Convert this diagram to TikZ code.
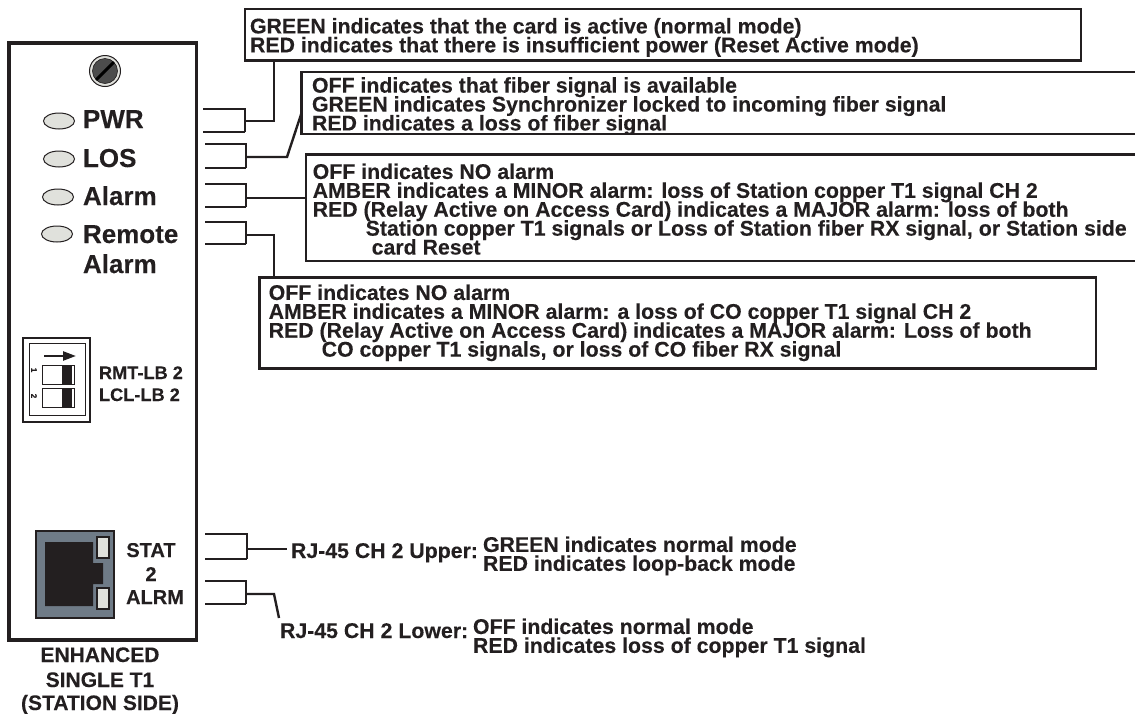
\documentclass[tikz,border=0pt]{standalone}
\usepackage{fontspec}
\setmainfont{Liberation Sans}[BoldFeatures={FakeBold=0.12}]
\usetikzlibrary{shapes.geometric, arrows.meta}
\definecolor{ink}{HTML}{231F20}
\definecolor{lampgray}{HTML}{E0E1DC}
\definecolor{jackgray}{HTML}{6F7B87}
\newcommand{\noteface}{\bfseries\fontsize{21.3}{18.9}\selectfont\lineskiplimit=-20pt}
\begin{document}
\begin{tikzpicture}[
        x=1pt, y=-1pt,
        line join=miter,
        every node/.style={outer sep=0pt},
        cardedge/.style={draw=ink, line width=3.6pt},
        callbox/.style={rectangle, draw=ink, line width=2.6pt, anchor=north west, inner sep=0pt},
        calltext/.style={anchor=north west, inner sep=0pt, align=left, text=ink, font=\noteface},
        facelabel/.style={anchor=base west, inner sep=0pt, text=ink, font=\bfseries\fontsize{26}{27}\selectfont},
        smalllabel/.style={anchor=base, inner sep=0pt, text=ink, font=\bfseries\fontsize{21}{22}\selectfont},
        jacklabel/.style={anchor=base west, inner sep=0pt, text=ink, font=\bfseries\fontsize{21.3}{22}\selectfont},
        led/.style={ellipse, draw=ink, line width=1pt, fill=lampgray, minimum width=31pt, minimum height=16pt, inner sep=0pt},
        tab/.style={draw=ink, line width=2pt},
        tabfoot/.style={draw=ink, line width=2.8pt},
        lead/.style={draw=ink, line width=2.4pt},
        jacklamp/.style={rectangle, draw=ink, line width=1.2pt, fill=lampgray, minimum width=12pt, minimum height=21pt, inner sep=0pt},
        dipslot/.style={rectangle, draw=ink, line width=1pt, minimum width=32pt, minimum height=19pt, inner sep=0pt}
    ]
        \clip (0,0) rectangle (1135,713);
        \fill[white] (0,0) rectangle (1135,713);

        % Card outline
        \node[rectangle, cardedge, anchor=north west, minimum width=187.5pt, minimum height=597pt, inner sep=0pt] (card) at (9,43) {};

        % Screw
        \node[circle, draw=ink, line width=1pt, fill=lampgray, minimum size=31pt, inner sep=0pt] (screw) at (105,71) {};
        \node[circle, fill=black!70, draw=ink, line width=.6pt, minimum size=25pt, inner sep=0pt] (screwhead) at (screw) {};
        \draw[line width=3pt, black] (screwhead.225) -- (screwhead.45);

        % Lamps
        \foreach \lampname/\lampx/\lampy in {pwr/59/121, los/59/159, alarm/58/197, remote/57/234}
            \node[led] (\lampname) at (\lampx,\lampy) {};
        \node[facelabel] (pwrtext) at (83,128) {PWR};
        \node[facelabel] (lostext) at (83,167) {LOS};
        \node[facelabel] (alarmtext) at (83,205) {Alarm};
        \node[facelabel] (remotetext) at (83,243) {Remote};
        \node[facelabel] (remotetext2) at (83,273) {Alarm};

        % DIP switch
        \node[rectangle, draw=ink, line width=2.4pt, anchor=north west, minimum width=67pt, minimum height=84pt] (dipouter) at (23,338) {};
        \node[rectangle, draw=ink, line width=.8pt, anchor=north west, minimum width=56pt, minimum height=72pt] (dipinner) at (29,343) {};
        \coordinate (diptail) at (44,356);
        \coordinate (diphead) at (76,356);
        \draw[-{Triangle[length=13pt,width=9pt]}, draw=ink, fill=ink, line width=2.4pt] (diptail) -- (diphead);
        \node[dipslot, anchor=north west] (slot1) at (42,365) {};
        \node[dipslot, anchor=north west] (slot2) at (42,388) {};
        \fill[ink] (62,365) rectangle (72,384);
        \fill[ink] (62,388) rectangle (72,407);
        \node[rotate=-90, inner sep=0pt, text=ink, font=\bfseries\fontsize{8}{8}\selectfont] (dipone) at (34,370) {1};
        \node[rotate=-90, inner sep=0pt, text=ink, font=\bfseries\fontsize{8}{8}\selectfont] (diptwo) at (34,396) {2};
        \node[anchor=base west, inner sep=0pt, text=ink, font=\bfseries\fontsize{18.2}{20}\selectfont] (rmttext) at (99,379) {RMT-LB 2};
        \node[anchor=base west, inner sep=0pt, text=ink, font=\bfseries\fontsize{18.2}{20}\selectfont] (lcltext) at (99,401) {LCL-LB 2};

        % RJ-45 jack
        \node[rectangle, draw=ink, line width=1.6pt, fill=jackgray, anchor=north west, minimum width=78pt, minimum height=87pt, inner sep=0pt] (jack) at (36,531) {};
        \fill[ink] (45,542) -- (93,542) -- (93,563) -- (103,563) -- (103,584) -- (93,584) -- (93,606) -- (45,606) -- cycle;
        \node[jacklamp, anchor=north west] (statlamp) at (97,537) {};
        \node[jacklamp, anchor=north west] (alrmlamp) at (97,588) {};
        \node[smalllabel, font=\bfseries\fontsize{20}{22}\selectfont] (stattext) at (151,557) {STAT};
        \node[smalllabel, font=\bfseries\fontsize{20}{22}\selectfont] (twotext) at (151,581) {2};
        \node[smalllabel, font=\bfseries\fontsize{20}{22}\selectfont] (alrmtext) at (155,604) {ALRM};

        % Card title
        \node[smalllabel] (titleone) at (100,662) {ENHANCED};
        \node[smalllabel] (titletwo) at (100,687) {SINGLE T1};
        \node[smalllabel] (titlethree) at (100,710) {(STATION SIDE)};

        % Callout boxes
        \node[callbox, minimum width=836pt, minimum height=51.5pt] (pwrbox) at (245,9) {};
        \node[calltext] (pwrnote) at (250,18) {GREEN indicates that the card is active (normal mode)\\
            RED indicates that there is insufficient power (Reset Active mode)};

        \node[callbox, minimum width=840pt, minimum height=62pt] (losbox) at (301.5,72) {};
        \node[calltext] (losnote) at (312,77.2) {OFF indicates that fiber signal is available\\
            GREEN indicates Synchronizer locked to incoming fiber signal\\
            RED indicates a loss of fiber signal};

        \node[callbox, minimum width=835pt, minimum height=106.5pt] (alarmbox) at (306,154.3) {};
        \node[calltext] (alarmnote) at (312.7,163.5) {OFF indicates NO alarm\\
            AMBER indicates a MINOR alarm: loss of Station copper T1 signal CH 2\\
            RED (Relay Active on Access Card) indicates a MAJOR alarm: loss of both\\
            \hspace*{53pt}Station copper T1 signals or Loss of Station fiber RX signal, or Station side\\
            \hspace*{59pt}card Reset};

        \node[callbox, minimum width=836.5pt, minimum height=91pt] (remotebox) at (259.5,277.7) {};
        \node[calltext] (remotenote) at (268.7,284.5) {OFF indicates NO alarm\\
            AMBER  indicates a MINOR alarm: a loss of CO copper T1 signal CH 2\\
            RED (Relay Active on Access Card) indicates a MAJOR alarm: Loss of both\\
            \hspace*{53pt}CO copper T1 signals, or loss of CO fiber RX signal};

        % Plain notes beside the jack
        \node[jacklabel] (uppertext) at (291,558) {RJ-45 CH 2 Upper:};
        \node[calltext] (uppernote) at (483,536.5) {GREEN indicates normal mode\\
            RED indicates loop-back mode};
        \node[jacklabel] (lowertext) at (280,638) {RJ-45 CH 2 Lower:};
        \node[calltext] (lowernote) at (473,618.5) {OFF indicates normal mode\\
            RED indicates loss of copper T1 signal};

        % Tabs beside the card
        \foreach \tableft/\tabright/\tabtop/\tabfoot in {203/245/108.5/132, 205/246/143.5/168, 205/246/184/207, 205/246/221.5/244, 205/247/534/559, 205/246/581/604} {
            \draw[tab] (\tableft,\tabtop) -- (\tabright,\tabtop) -- (\tabright,\tabfoot);
            \draw[tabfoot] (\tabright,\tabfoot) -- (\tableft,\tabfoot);
        }

        % Leads
        \coordinate (pwrtap) at (245,121);
        \coordinate (pwrbend) at (274,121);
        \coordinate (lostap) at (246,157);
        \coordinate (losbend) at (287,157);
        \coordinate (losend) at (301.5,113);
        \coordinate (alarmtap) at (246,198);
        \coordinate (remotetap) at (246,235);
        \coordinate (remotebend) at (274,235);
        \coordinate (uppertap) at (247,549);
        \coordinate (upperend) at (287,549);
        \coordinate (lowertap) at (246,594);
        \coordinate (lowerbend) at (274,594);
        \coordinate (lowerend) at (279,618);

        \draw[lead] (pwrtap) -- (pwrbend) -- (pwrbend |- pwrbox.south);
        \draw[lead] (lostap) -- (losbend) -- (losend);
        \draw[lead] (alarmtap) -- (alarmtap -| alarmbox.west);
        \draw[lead] (remotetap) -- (remotebend) -- (remotebend |- remotebox.north);
        \draw[lead] (uppertap) -- (upperend);
        \draw[lead] (lowertap) -- (lowerbend) -- (lowerend);
    \end{tikzpicture}
\end{document}
